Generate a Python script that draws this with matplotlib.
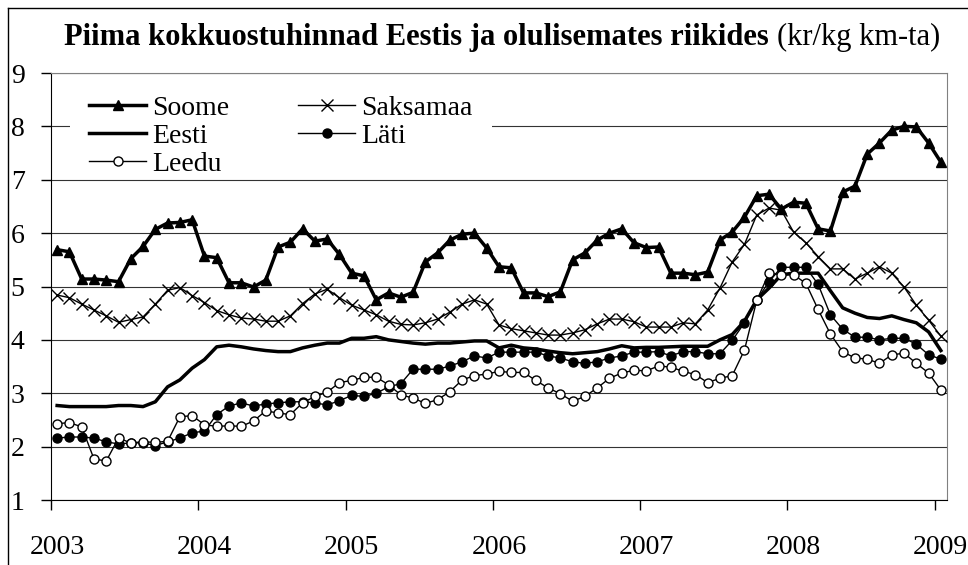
import numpy as np
import matplotlib.pyplot as plt
from matplotlib.lines import Line2D
from matplotlib.patches import Rectangle

plt.rcParams['font.family'] = ['Liberation Serif', 'DejaVu Serif']

# monthly values Jan 2003 .. Jan 2009 (kr/kg)
years = ['2003', '2004', '2005', '2006', '2007', '2008', '2009']

soome = [5.69, 5.65, 5.14, 5.14, 5.12, 5.09, 5.52, 5.75, 6.07, 6.19, 6.20, 6.25,
         5.57, 5.54, 5.07, 5.07, 4.99, 5.12, 5.74, 5.83, 6.08, 5.85, 5.89, 5.60,
         5.25, 5.20, 4.75, 4.88, 4.80, 4.89, 5.46, 5.63, 5.87, 5.98, 6.00, 5.72,
         5.37, 5.35, 4.88, 4.88, 4.81, 4.90, 5.50, 5.63, 5.87, 6.00, 6.08, 5.82,
         5.73, 5.74, 5.25, 5.25, 5.22, 5.27, 5.87, 6.02, 6.30, 6.70, 6.73, 6.45,
         6.58, 6.56, 6.08, 6.04, 6.77, 6.88, 7.48, 7.69, 7.93, 8.00, 7.99, 7.69,
         7.33]
saksamaa = [4.84, 4.79, 4.67, 4.56, 4.45, 4.33, 4.38, 4.43, 4.67, 4.93, 4.98, 4.83,
            4.70, 4.55, 4.47, 4.41, 4.39, 4.35, 4.35, 4.45, 4.68, 4.86, 4.95, 4.79,
            4.65, 4.56, 4.47, 4.35, 4.29, 4.28, 4.32, 4.39, 4.52, 4.67, 4.75, 4.67,
            4.28, 4.21, 4.17, 4.13, 4.09, 4.09, 4.13, 4.19, 4.30, 4.39, 4.39, 4.34,
            4.24, 4.24, 4.24, 4.32, 4.30, 4.56, 4.97, 5.46, 5.79, 6.34, 6.47, 6.43,
            6.02, 5.82, 5.56, 5.33, 5.33, 5.14, 5.25, 5.37, 5.25, 4.99, 4.65, 4.37,
            4.07]
eesti = [2.77, 2.75, 2.75, 2.75, 2.75, 2.77, 2.77, 2.75, 2.84, 3.12, 3.25, 3.47,
         3.63, 3.87, 3.90, 3.87, 3.83, 3.80, 3.78, 3.78, 3.85, 3.90, 3.94, 3.94,
         4.03, 4.03, 4.06, 4.00, 3.97, 3.94, 3.92, 3.94, 3.94, 3.96, 3.98, 3.98,
         3.85, 3.90, 3.85, 3.83, 3.79, 3.76, 3.74, 3.76, 3.78, 3.83, 3.89, 3.85,
         3.86, 3.86, 3.87, 3.88, 3.88, 3.88, 4.00, 4.10, 4.35, 4.75, 4.97, 5.22,
         5.25, 5.25, 5.25, 4.92, 4.60, 4.50, 4.42, 4.40, 4.45, 4.38, 4.32, 4.15,
         3.80]
lati = [2.16, 2.18, 2.18, 2.16, 2.09, 2.05, 2.07, 2.07, 2.02, 2.09, 2.16, 2.26,
        2.29, 2.60, 2.76, 2.82, 2.76, 2.80, 2.82, 2.84, 2.84, 2.82, 2.78, 2.86,
        2.96, 2.94, 3.00, 3.12, 3.18, 3.45, 3.45, 3.45, 3.51, 3.59, 3.70, 3.66,
        3.77, 3.77, 3.77, 3.77, 3.70, 3.66, 3.59, 3.56, 3.59, 3.66, 3.70, 3.77,
        3.77, 3.78, 3.70, 3.78, 3.78, 3.74, 3.74, 3.99, 4.32, 4.75, 5.09, 5.36,
        5.36, 5.36, 5.04, 4.47, 4.20, 4.05, 4.05, 4.00, 4.03, 4.03, 3.92, 3.72,
        3.64]
leedu = [2.43, 2.45, 2.37, 1.77, 1.73, 2.16, 2.07, 2.09, 2.08, 2.10, 2.56, 2.58,
         2.41, 2.38, 2.39, 2.38, 2.48, 2.67, 2.63, 2.60, 2.82, 2.94, 3.02, 3.20,
         3.24, 3.30, 3.30, 3.16, 2.97, 2.91, 2.81, 2.88, 3.03, 3.25, 3.33, 3.36,
         3.41, 3.39, 3.39, 3.24, 3.10, 2.99, 2.85, 2.94, 3.10, 3.28, 3.38, 3.43,
         3.42, 3.51, 3.49, 3.41, 3.35, 3.20, 3.28, 3.33, 3.81, 4.74, 5.25, 5.22,
         5.22, 5.06, 4.57, 4.11, 3.78, 3.66, 3.64, 3.56, 3.72, 3.75, 3.56, 3.38,
         3.06]

W, H = 968, 565
fig = plt.figure(figsize=(W / 100, H / 100), dpi=100)
ax = fig.add_axes([51 / W, 65 / H, 896 / W, 427 / H])

x = np.arange(len(soome))
l_sak, = ax.plot(x, saksamaa, color='k', lw=1, marker='x', ms=8, mew=1,
                 label='Saksamaa', zorder=3)
l_ees, = ax.plot(x, eesti, color='k', lw=2.5, label='Eesti', zorder=4)
l_lat, = ax.plot(x, lati, color='k', lw=1, marker='o', ms=6.5, label='Läti', zorder=5)
l_lee, = ax.plot(x, leedu, color='k', lw=1, marker='o', ms=6.5, mfc='white',
                 label='Leedu', zorder=6)
l_soo, = ax.plot(x, soome, color='k', lw=2.5, marker='^', ms=7.5, label='Soome', zorder=7)

ax.set_xlim(-0.5, len(soome) - 0.5)
ax.set_ylim(1, 9)
ax.set_yticks(range(1, 10))
# tick marks on year boundaries, labels under January points
ax.set_xticks(np.arange(0, 73, 12) - 0.5)
ax.set_xticklabels([])
ax.set_xticks(np.arange(0, 73, 12), minor=True)
ax.set_xticklabels(years, minor=True)
ax.grid(axis='y', color='#333333', lw=0.8)
ax.set_axisbelow(True)
ax.tick_params(axis='both', which='major', direction='out', length=7, width=1, labelsize=20)
ax.tick_params(axis='x', which='minor', length=0, labelsize=20, pad=25)
ax.tick_params(axis='y', pad=12)
for s in ['top', 'right']:
    ax.spines[s].set_color('#808080')

# white patch behind the legend hides the gridline at 8 only
ax.add_patch(Rectangle((0.0212, 0.765), 0.471, 0.2, transform=ax.transAxes,
                       facecolor='white', edgecolor='none', zorder=1))
leg = ax.legend(handles=[l_soo, l_ees, l_lee, l_sak, l_lat], ncol=2, loc='upper left',
                bbox_to_anchor=(0.018, 1.0), fontsize=20, frameon=False,
                labelspacing=0.1, handlelength=2.05, handletextpad=0.2,
                columnspacing=2.5, borderpad=0.3)
leg.set_zorder(10)

# title: bold part + normal part
ty = 1 - 37 / H
t1 = fig.text(0.5, ty, 'Piima kokkuostuhinnad Eestis ja olulisemates riikides ',
              fontsize=22, fontweight='bold', ha='left', va='center')
t2 = fig.text(0.5, ty, '(kr/kg km-ta)', fontsize=22, ha='left', va='center')
r = fig.canvas.get_renderer()
w1 = t1.get_window_extent(r).width
w2 = t2.get_window_extent(r).width
x0 = 502 - (w1 + w2) / 2
t1.set_x(x0 / W)
t2.set_x((x0 + w1) / W)

# outer frame
fig.add_artist(Line2D([8 / W, 8 / W], [0, 1 - 8 / H], transform=fig.transFigure, color='k', lw=1))
fig.add_artist(Line2D([8 / W, 1], [1 - 8 / H, 1 - 8 / H], transform=fig.transFigure, color='k', lw=1))

fig.savefig('out.png', dpi=100)
